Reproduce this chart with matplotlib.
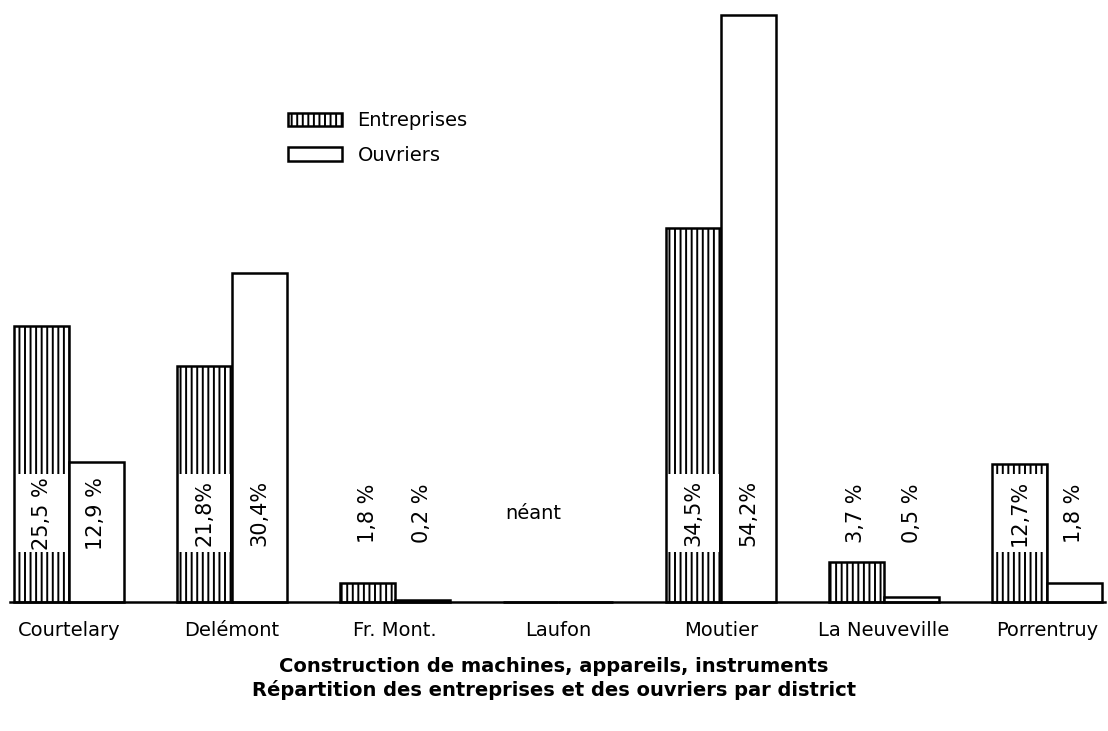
import matplotlib
matplotlib.use("Agg")
import matplotlib.pyplot as plt
from matplotlib.patches import Patch

districts = ["Courtelary", "Delémont", "Fr. Mont.", "Laufon", "Moutier", "La Neuveville", "Porrentruy"]
entreprises = [25.5, 21.8, 1.8, 0.0, 34.5, 3.7, 12.7]
ouvriers = [12.9, 30.4, 0.2, 0.0, 54.2, 0.5, 1.8]
lab_entreprises = ["25,5 %", "21,8%", "1,8 %", "", "34,5%", "3,7 %", "12,7%"]
lab_ouvriers = ["12,9 %", "30,4%", "0,2 %", "", "54,2%", "0,5 %", "1,8 %"]
neant_label = "néant"
title_lines = ["Construction de machines, appareils, instruments",
               "Répartition des entreprises et des ouvriers par district"]

plt.rcParams['font.family'] = ['DejaVu Sans']
plt.rcParams['hatch.linewidth'] = 1.4

fig = plt.figure(figsize=(11.08, 7.31), dpi=100)
ax = fig.add_axes([0, 0, 1, 1])
px = 163.0
ax.set_xlim(-69 / px, (1108 - 69) / px)
ppy = 10.83
ax.set_ylim(-(731 - 602) / ppy, 602 / ppy)
ax.axis('off')

w = 55 / px
xs = list(range(len(districts)))
xe = [x - w / 2 for x in xs]
xo = [x + w / 2 for x in xs]

ax.bar(xe, entreprises, width=w, facecolor='white', edgecolor='black',
       hatch='|||', linewidth=0, zorder=2)
# white band behind labels inside hatched bars
label_y = 8.2
band_half = 3.6
for x, v in zip(xe, entreprises):
    if v > 12:
        ax.bar([x], [2 * band_half], bottom=label_y - band_half, width=w * 0.94,
               color='white', edgecolor='none', zorder=3)
ax.bar(xe, entreprises, width=w, fill=False, edgecolor='black', linewidth=1.8, zorder=4)
ax.bar(xo, ouvriers, width=w, facecolor='white', edgecolor='black', linewidth=1.8, zorder=4)

# baseline
ax.plot([(10 - 69) / px, (1105 - 69) / px], [0, 0], color='black', lw=1.8, zorder=5)

for x, t in zip(xe, lab_entreprises):
    if t:
        ax.text(x, label_y, t, rotation=90, ha='center', va='center', fontsize=15, zorder=6)
for x, t in zip(xo, lab_ouvriers):
    if t:
        ax.text(x, label_y, t, rotation=90, ha='center', va='center', fontsize=15, zorder=6)
ax.text(xs[3] - 0.15, label_y, neant_label, ha='center', va='center', fontsize=14)

for x, d in zip(xs, districts):
    ax.text(x, -(630 - 602) / ppy, d, ha='center', va='center', fontsize=14)

ax.text((554 - 69) / px, -(666 - 602) / ppy, title_lines[0], ha='center', va='center',
        fontsize=14, fontweight='bold')
ax.text((554 - 69) / px, -(690 - 602) / ppy, title_lines[1], ha='center', va='center',
        fontsize=14, fontweight='bold')

handles = [Patch(facecolor='white', edgecolor='black', hatch='|||', linewidth=1.8),
           Patch(facecolor='white', edgecolor='black', linewidth=1.8)]
leg = fig.legend(handles, ["Entreprises", "Ouvriers"], loc='upper left',
                 bbox_to_anchor=(270 / 1108, 1 - 94 / 731), frameon=False,
                 fontsize=14, handlelength=2.8, handleheight=0.7, labelspacing=0.8,
                 handletextpad=0.8)

fig.savefig("out.png", dpi=100, facecolor='white')
